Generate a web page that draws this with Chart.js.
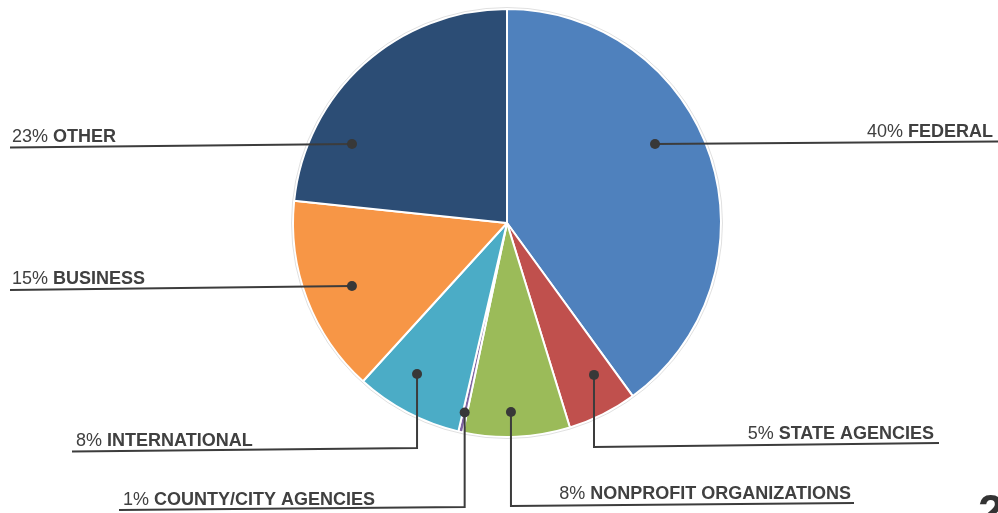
<!DOCTYPE html>
<html>
<head>
<meta charset="utf-8">
<script src="https://cdn.jsdelivr.net/npm/chart.js@4/dist/chart.umd.min.js"></script>
<style>
  html, body { margin: 0; padding: 0; background: #ffffff; }
  #wrap { position: relative; width: 998px; height: 513px; }
</style>
</head>
<body>
<div id="wrap"><canvas id="chart" width="998" height="513"></canvas></div>
<script>
// Funding sources (share of total, in %)
const categories = ['FEDERAL', 'STATE AGENCIES', 'NONPROFIT ORGANIZATIONS', 'COUNTY/CITY AGENCIES', 'INTERNATIONAL', 'BUSINESS', 'OTHER'];
const shares = [40, 5.25, 8.05, 0.35, 8.1, 14.9, 23.35];
const pctLabels = ['40%', '5%', '8%', '1%', '8%', '15%', '23%'];
const sliceColors = ['#4F81BD', '#C0504D', '#9BBB59', '#8064A2', '#4BACC6', '#F79646', '#2C4D75'];

// Leader line layout: dot given as angle (deg, clockwise from top) + fraction of radius
const leaders = [
    { angle: 61.9, frac: 0.784, kind: 'h', ex: 998, ey: 141.5, align: 'right', tx: 993, ty: 137 },
    { angle: 150.2, frac: 0.818, kind: 'elbow', cy: 447, ex: 939, ey: 443, align: 'right', tx: 934, ty: 439 },
    { angle: 178.8, frac: 0.883, kind: 'elbow', cy: 506, ex: 854, ey: 503, align: 'right', tx: 851, ty: 499 },
    { angle: 192.6, frac: 0.907, kind: 'elbow', cy: 507, ex: 119, ey: 510, align: 'left', tx: 123, ty: 505 },
    { angle: 210.8, frac: 0.821, kind: 'elbow', cy: 448, ex: 72, ey: 451.5, align: 'left', tx: 76, ty: 446 },
    { angle: 247.9, frac: 0.782, kind: 'h', ex: 10, ey: 290, align: 'left', tx: 12, ty: 284 },
    { angle: 297, frac: 0.813, kind: 'h', ex: 10, ey: 147.5, align: 'left', tx: 12, ty: 142 },
];

const textColor = '#404040';
const lineColor = '#3c3c3c';

const leaderLabels = {
    id: 'leaderLabels',
    afterDraw(chart) {
        const ctx = chart.ctx;
        const arcs = chart.getDatasetMeta(0).data;
        if (!arcs.length) return;
        const cx = arcs[0].x;
        const cy = arcs[0].y;
        const r = arcs[0].outerRadius;

        ctx.save();
        // faint outer rim
        ctx.beginPath();
        ctx.arc(cx, cy, r + 1.5, 0, Math.PI * 2);
        ctx.strokeStyle = 'rgba(0,0,0,0.12)';
        ctx.lineWidth = 1;
        ctx.stroke();

        leaders.forEach((l, i) => {
            const a = l.angle * Math.PI / 180;
            const dx = cx + Math.sin(a) * r * l.frac;
            const dy = cy - Math.cos(a) * r * l.frac;

            ctx.strokeStyle = lineColor;
            ctx.lineWidth = 2;
            ctx.beginPath();
            ctx.moveTo(dx, dy);
            if (l.kind === 'elbow') {
                ctx.lineTo(dx, l.cy);
            }
            ctx.lineTo(l.ex, l.ey);
            ctx.stroke();

            ctx.fillStyle = '#383838';
            ctx.beginPath();
            ctx.arc(dx, dy, 5, 0, Math.PI * 2);
            ctx.fill();

            // label: regular percentage + bold name
            const pct = pctLabels[i] + ' ';
            const name = categories[i];
            ctx.textBaseline = 'alphabetic';
            ctx.textAlign = 'left';
            ctx.font = '18px "Liberation Sans", Arial, sans-serif';
            const wp = ctx.measureText(pct).width;
            ctx.font = 'bold 18px "Liberation Sans", Arial, sans-serif';
            const wn = ctx.measureText(name).width;
            let x0 = l.align === 'right' ? l.tx - wp - wn : l.tx;
            ctx.fillStyle = textColor;
            ctx.font = '18px "Liberation Sans", Arial, sans-serif';
            ctx.fillText(pct, x0, l.ty);
            ctx.font = 'bold 18px "Liberation Sans", Arial, sans-serif';
            ctx.fillText(name, x0 + wp, l.ty);
        });

        // page number peeking in at the corner
        ctx.fillStyle = '#333333';
        ctx.font = 'bold 46px "Liberation Sans", Arial, sans-serif';
        ctx.textBaseline = 'top';
        ctx.fillText('2', 978, 491);
        ctx.restore();
    }
};

new Chart(document.getElementById('chart'), {
    type: 'pie',
    data: {
        labels: categories,
        datasets: [{
            data: shares,
            backgroundColor: sliceColors,
            borderColor: '#ffffff',
            borderWidth: 2,
        }],
    },
    options: {
        responsive: false,
        animation: false,
        layout: {
            padding: { top: 8, bottom: 75, left: 16, right: 0 },
        },
        plugins: {
            legend: { display: false },
            tooltip: { enabled: false },
        },
    },
    plugins: [leaderLabels],
});
</script>
</body>
</html>
